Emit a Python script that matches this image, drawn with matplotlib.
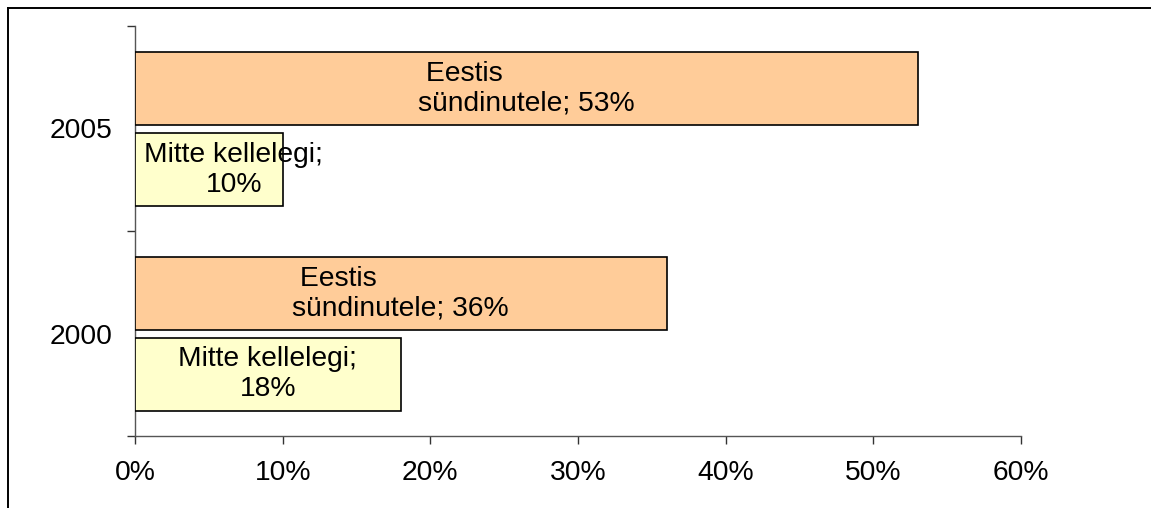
import numpy as np
import matplotlib.pyplot as plt
from matplotlib.lines import Line2D
from matplotlib.ticker import FuncFormatter

plt.rcParams['font.family'] = ['Liberation Sans', 'DejaVu Sans']

years = ['2000', '2005']
eestis = [36, 53]          # Eestis sündinutele, %
mitte = [18, 10]           # Mitte kellelegi, %
eestis_label = ' Eestis\nsündinutele; {}%'
mitte_label = 'Mitte kellelegi;\n{}%'

fig = plt.figure(figsize=(11.51, 5.08), dpi=100)
ax = fig.add_axes([135 / 1151, 1 - 436 / 508, (1021 - 135) / 1151, (436 - 26) / 508])

y = np.arange(len(years))
ax.barh(y + 0.195, eestis, height=0.36, color='#FFCC99', edgecolor='black', linewidth=1.2, zorder=3)
ax.barh(y - 0.2, mitte, height=0.36, color='#FFFFCC', edgecolor='black', linewidth=1.2, zorder=3)

fs = 20.3
for i in range(len(years)):
    ax.text(eestis[i] / 2, y[i] + 0.195, eestis_label.format(eestis[i]), ha='center', va='center',
            multialignment='left', fontsize=fs, linespacing=1.2, zorder=4)
    # Excel pushes the label right when it does not fit the bar
    ax.text(max(mitte[i] / 2, 6.7), y[i] - 0.2, mitte_label.format(mitte[i]), ha='center', va='center',
            fontsize=fs, linespacing=1.2, zorder=4)

ax.set_xlim(0, 60)
ax.set_ylim(-0.5, 1.5)
ax.set_xticks(np.arange(0, 61, 10))
ax.xaxis.set_major_formatter(FuncFormatter(lambda v, p: '{:.0f}%'.format(v)))
ax.set_yticks(y)
ax.set_yticklabels(years)
ax.set_yticks([-0.5, 0.5, 1.5], minor=True)
ax.tick_params(axis='y', which='major', length=0, pad=16, labelsize=fs)
ax.tick_params(axis='y', which='minor', length=6, width=1, color='#333333')
ax.tick_params(axis='x', length=6, width=1, color='#333333', pad=11, labelsize=fs)

for s in ['top', 'right']:
    ax.spines[s].set_visible(False)
for s in ['left', 'bottom']:
    ax.spines[s].set_color('#555555')
    ax.spines[s].set_linewidth(1)

# outer chart frame (cut off on the right and bottom)
fig.add_artist(Line2D([8 / 1151, 8 / 1151], [0, 1 - 7.5 / 508], color='black', linewidth=1.4))
fig.add_artist(Line2D([8 / 1151, 1], [1 - 7.5 / 508, 1 - 7.5 / 508], color='black', linewidth=1.4))

fig.savefig('out.png', dpi=100)
